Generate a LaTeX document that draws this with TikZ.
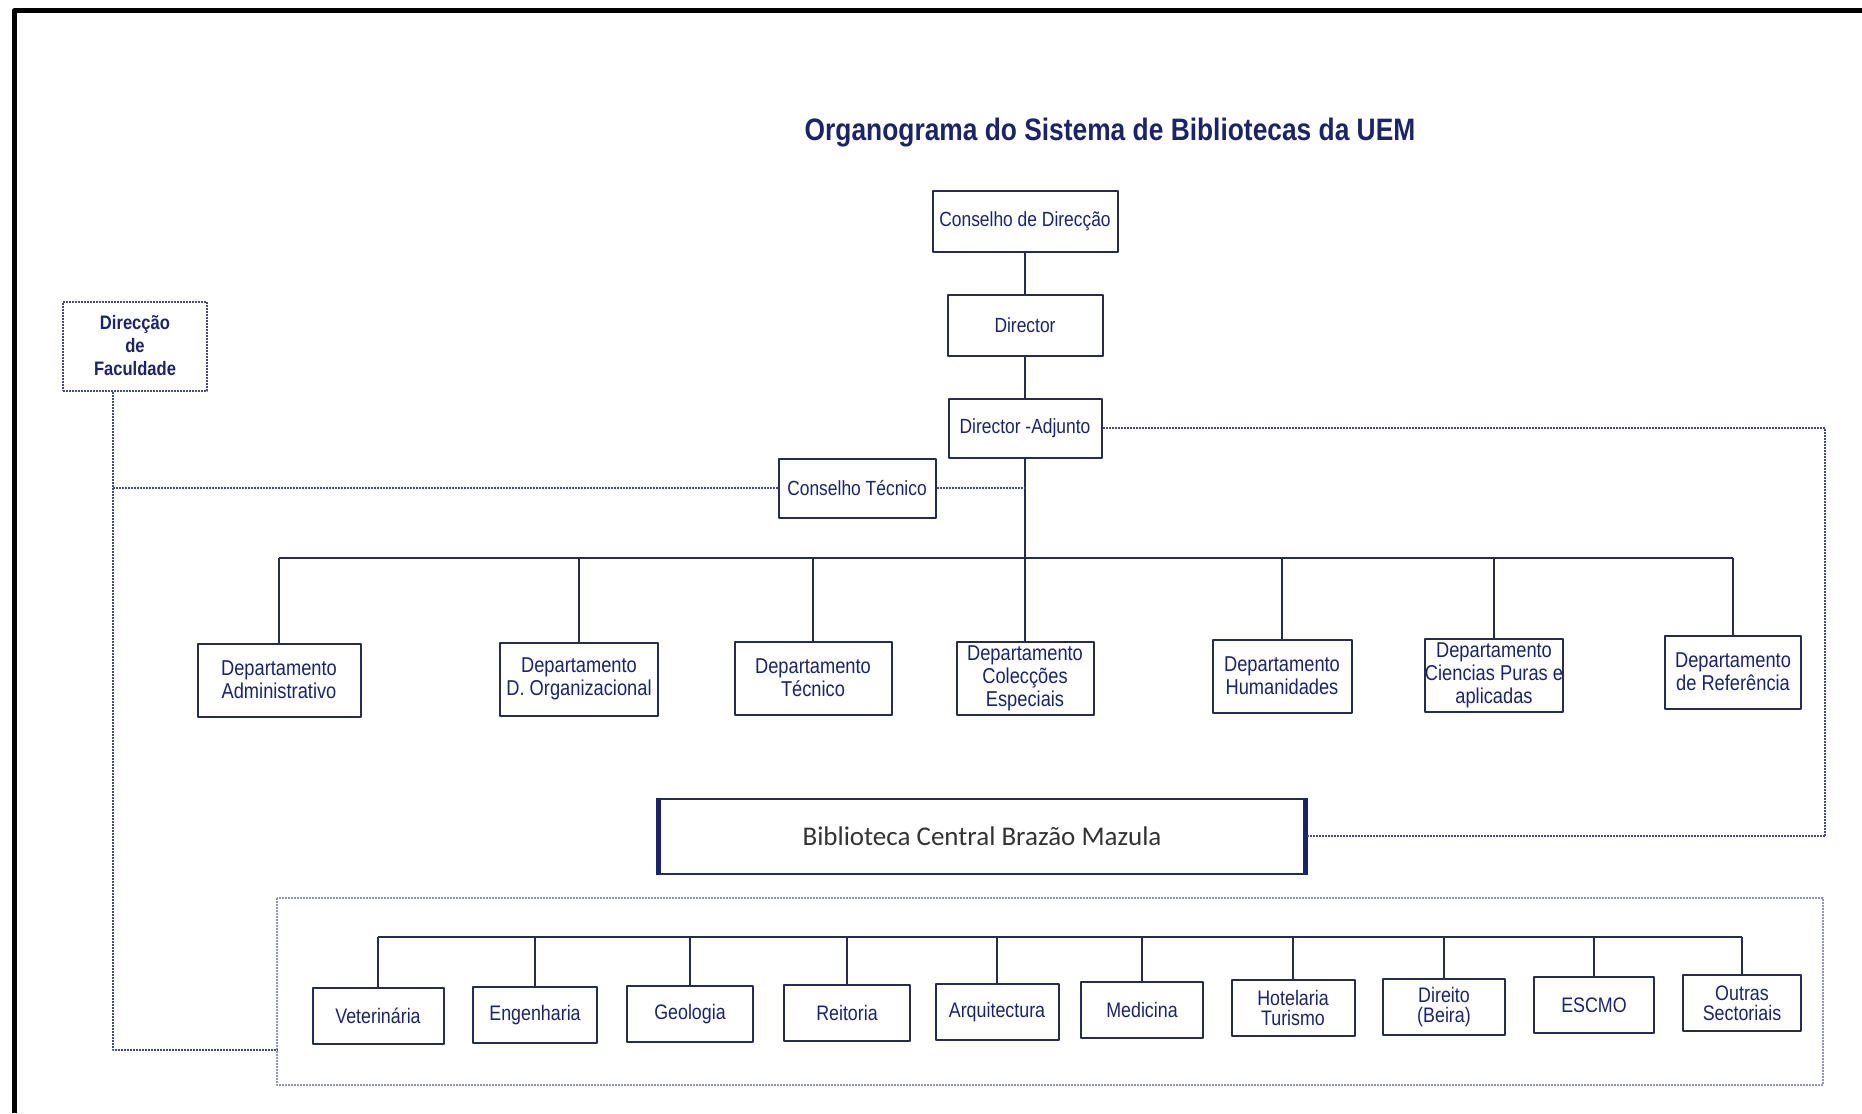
\documentclass[tikz,border=0pt]{standalone}
\usepackage{fontspec}
\setmainfont[FakeStretch=0.85]{Liberation Sans}
\newfontfamily\bibfont{Carlito}
\definecolor{inkblue}{RGB}{28,36,105}
\definecolor{boxline}{RGB}{40,44,75}
\definecolor{dotgray}{RGB}{70,76,120}
\begin{document}
\begin{tikzpicture}[x=1pt,y=-1pt,line join=round,
	box/.style={draw=boxline,line width=2,fill=white,text=inkblue,align=center,inner sep=2,font=\fontsize{20.5}{23}\selectfont},
	dept/.style={box,minimum height=73,font=\fontsize{21.5}{23}\selectfont},
	sect/.style={box,minimum width=122,minimum height=56,font=\fontsize{21}{20}\selectfont},
	link/.style={boxline,line width=2},
	dotlink/.style={dotgray,line width=2.5,dash pattern=on 2pt off 1pt}]
	\useasboundingbox (0,0) rectangle (1862,1113);
	\draw[line width=5,black] (14,1113)--(14,11)--(1862,11);
	\node[text=inkblue,font=\bfseries\fontsize{31}{36}\selectfont] (title) at (1110,133) {Organograma do Sistema de Bibliotecas da UEM};
	% direccao
	\node[box,minimum width=185,minimum height=61] (cd) at (1025,221) {Conselho de Direcção};
	\node[box,minimum width=155,minimum height=61] (dir) at (1025,325) {Director};
	\node[box,minimum width=153,minimum height=59] (da) at (1025,428) {Director -Adjunto};
	\node[box,minimum width=157,minimum height=59] (ct) at (857,488) {Conselho Técnico};
	\node[box,draw=dotgray,dash pattern=on 2pt off 1pt,minimum width=144,minimum height=89,font=\bfseries\fontsize{19.5}{23}\selectfont] (df) at (135,346) {Direcção\\de\\Faculdade};
	\draw[link] (cd)--(dir);
	\draw[link] (dir)--(da);
	% departamentos
	\node[dept,minimum width=163] (adm) at (279,680) {Departamento\\Administrativo};
	\node[dept,minimum width=158] (dorg) at (579,679) {Departamento\\D. Organizacional};
	\node[dept,minimum width=157] (tec) at (813,678) {Departamento\\Técnico};
	\node[dept,minimum width=137,inner sep=0] (col) at (1025,678) {Departamento\\Colecções\\Especiais};
	\node[dept,minimum width=139] (hum) at (1282,676) {Departamento\\Humanidades};
	\node[dept,minimum width=137,inner sep=0] (cien) at (1494,675) {Departamento\\Ciencias Puras e\\aplicadas};
	\node[dept,minimum width=136] (ref) at (1733,672) {Departamento\\de Referência};
	\coordinate (deptbus) at (0,558);
	\draw[link] (da.south)--(col.north);
	\draw[link] (adm.north |- deptbus)--(ref.north |- deptbus);
	\foreach \d in {adm,dorg,tec,hum,cien,ref}
		\draw[link] (\d.north)--(\d.north |- deptbus);
	% biblioteca central
	\node[box,minimum width=645,minimum height=75,text=black!80,font=\bibfont\fontsize{27}{30}\selectfont] (bib) at (982,836) {Biblioteca Central Brazão Mazula};
	\draw[inkblue,line width=5] (bib.north west)--(bib.south west);
	\draw[inkblue,line width=5] (bib.north east)--(bib.south east);
	% sectoriais
	\draw[dotlink,dotgray!60] (277,898) rectangle (1823,1085);
	\node[sect,minimum width=131] (vet) at (378,1016) {Veterinária};
	\node[sect,minimum width=124] (eng) at (535,1015) {Engenharia};
	\node[sect,minimum width=126] (geo) at (690,1014) {Geologia};
	\node[sect,minimum width=126] (rei) at (847,1013) {Reitoria};
	\node[sect,minimum width=123] (arq) at (997,1012) {Arquitectura};
	\node[sect] (med) at (1142,1010) {Medicina};
	\node[sect,minimum width=123] (hot) at (1293,1008) {Hotelaria\\Turismo};
	\node[sect] (dto) at (1444,1007) {Direito\\(Beira)};
	\node[sect,minimum width=120] (esc) at (1594,1005) {ESCMO};
	\node[sect,minimum width=118] (out) at (1742,1003) {Outras\\Sectoriais};
	\coordinate (lowbus) at (0,937);
	\draw[link] (vet.north |- lowbus)--(out.north |- lowbus);
	\foreach \s in {vet,eng,geo,rei,arq,med,hot,dto,esc,out}
		\draw[link] (\s.north)--(\s.north |- lowbus);
	% ligacoes pontilhadas
	\coordinate (facdown) at (113,1050);
	\coordinate (lowwest) at (277,1050);
	\coordinate (rloop) at (1825,0);
	\draw[dotlink] ([xshift=-22]df.south)--(facdown)--(lowwest);
	\draw[dotlink] (ct.west)--(ct.west -| facdown);
	\draw[dotlink] (ct.east)--(ct.east -| da.south);
	\draw[dotlink] (da.east)--(da.east -| rloop) |- (bib.east);
\end{tikzpicture}
\end{document}
